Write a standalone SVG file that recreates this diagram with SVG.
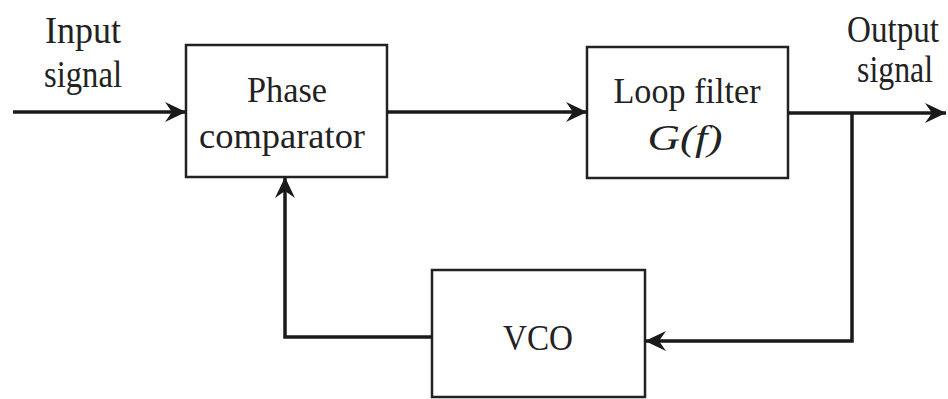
<svg xmlns="http://www.w3.org/2000/svg" width="948" height="399" viewBox="0 0 948 399">
<style>
.box{fill:#fff;stroke:#222;stroke-width:2.5}
.wire{fill:none;stroke:#1a1a1a;stroke-width:3.5}
.t{font-family:"Liberation Serif","Times New Roman",serif;fill:#222;font-size:36px;text-anchor:middle}
.l{font-size:37px}
.i{font-style:italic}
</style>
<defs>
<marker id="arr" markerUnits="userSpaceOnUse" markerWidth="24" markerHeight="24" viewBox="-22 -12 24 24" refX="0" refY="0" orient="auto">
<path d="M0,0 L-21,-10 L-14,0 L-21,10 Z" fill="#1a1a1a"/>
</marker>
</defs>
<rect width="948" height="399" fill="#fff"/>
<g id="labels">
<text class="t l" x="83" y="43" textLength="76" lengthAdjust="spacingAndGlyphs">Input</text>
<text class="t l" x="83" y="87" textLength="78" lengthAdjust="spacingAndGlyphs">signal</text>
<text class="t l" x="893" y="42" textLength="92" lengthAdjust="spacingAndGlyphs">Output</text>
<text class="t l" x="895" y="82" textLength="76" lengthAdjust="spacingAndGlyphs">signal</text>
</g>
<g id="phase-comparator">
<rect class="box" x="186" y="45" width="201" height="132"/>
<text class="t" x="287" y="102" textLength="80" lengthAdjust="spacingAndGlyphs">Phase</text>
<text class="t" x="282" y="148" textLength="166" lengthAdjust="spacingAndGlyphs">comparator</text>
</g>
<g id="loop-filter">
<rect class="box" x="587" y="47" width="201" height="131"/>
<text class="t" x="687" y="103" textLength="147" lengthAdjust="spacingAndGlyphs">Loop filter</text>
<text class="t i" x="685" y="150" textLength="75" lengthAdjust="spacingAndGlyphs">G(f)</text>
</g>
<g id="vco">
<rect class="box" x="432" y="270" width="213" height="127"/>
<text class="t" x="538" y="350" textLength="70" lengthAdjust="spacingAndGlyphs">VCO</text>
</g>
<g id="connectors">
<line class="wire" x1="13" y1="112" x2="186" y2="112" marker-end="url(#arr)"/>
<line class="wire" x1="387" y1="112" x2="587" y2="112" marker-end="url(#arr)"/>
<line class="wire" x1="788" y1="113" x2="946" y2="113" marker-end="url(#arr)"/>
<polyline class="wire" points="852,113 852,341 645,341" marker-end="url(#arr)"/>
<polyline class="wire" points="432,337 285,337 285,177" marker-end="url(#arr)"/>
</g>
</svg>
